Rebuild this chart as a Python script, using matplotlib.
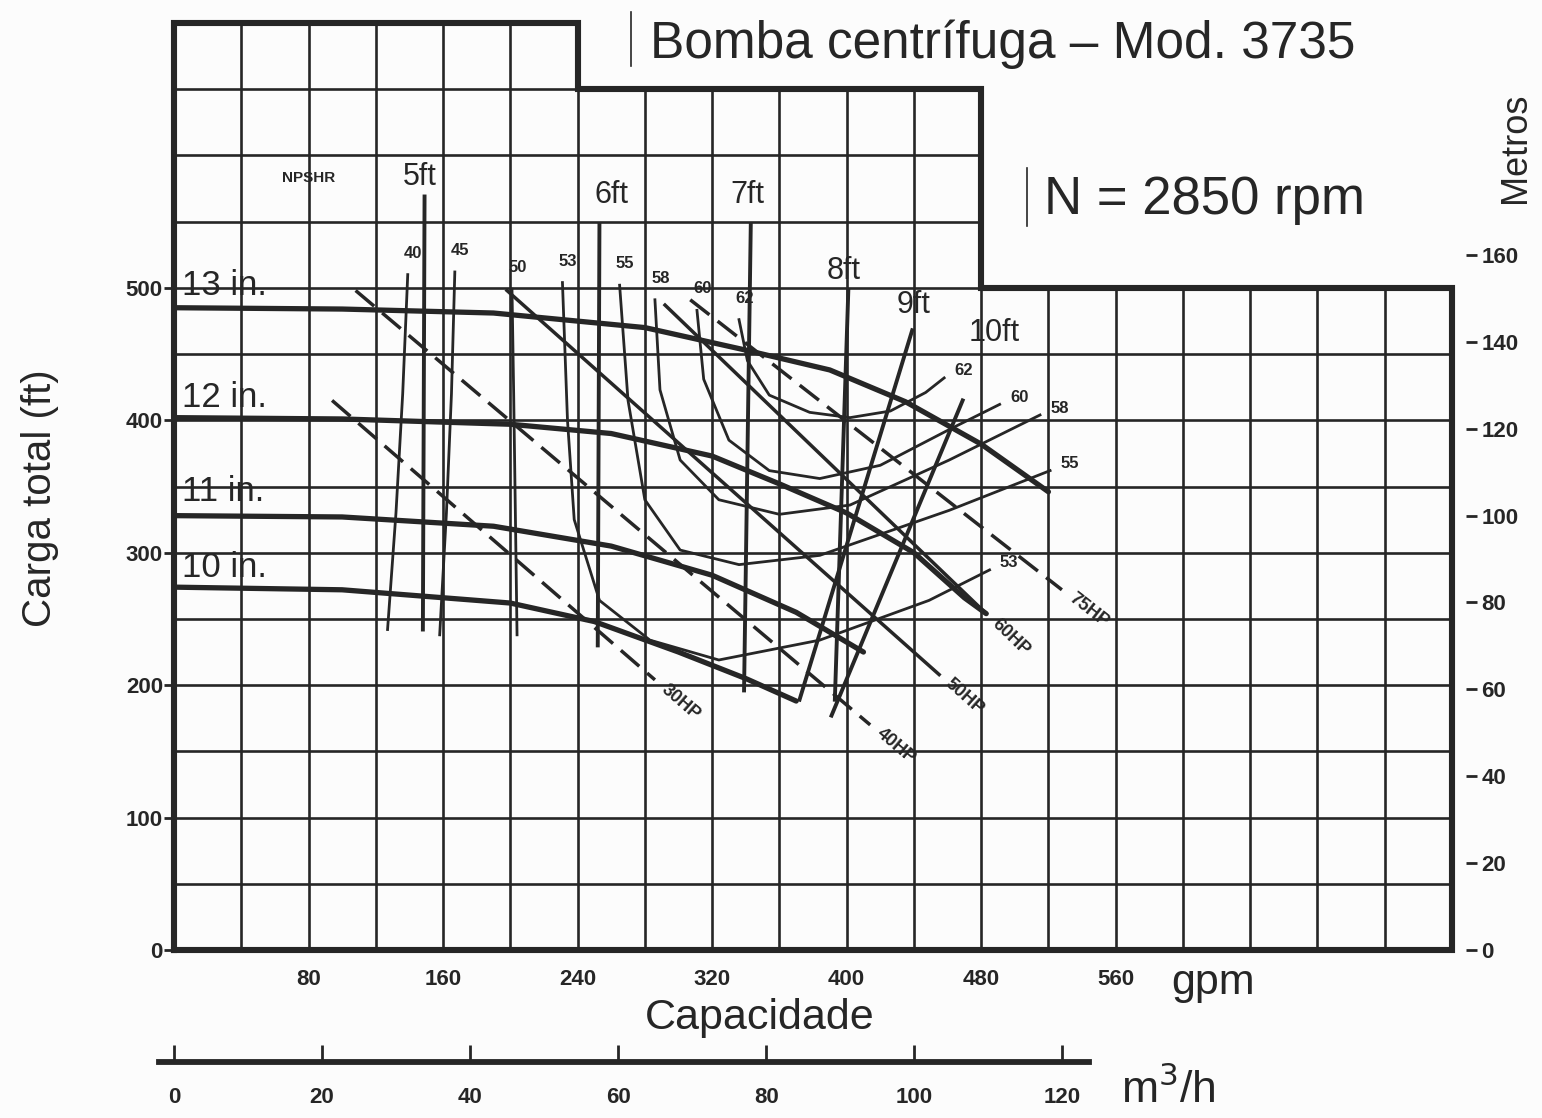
import matplotlib
matplotlib.use('Agg')
import matplotlib.pyplot as plt
from matplotlib.lines import Line2D
import numpy as np

W, H = 1542, 1118
INK = '#262626'
plt.rcParams['font.family'] = ['Liberation Sans', 'DejaVu Sans']

# stepped outline of the chart (gpm, ft)
step_q = [240, 480, 760]
step_top = [700, 650, 500]

# head curves, one per impeller diameter
imp_labels = ['13 in.', '12 in.', '11 in.', '10 in.']
q13 = [0, 100, 190, 280, 340, 390, 435, 480, 520]
h13 = [485, 484, 481, 470, 453, 438, 414, 382, 346]
q12 = [0, 100, 200, 260, 320, 360, 400, 440, 470, 483]
h12 = [402, 401, 397, 390, 373, 352, 330, 300, 266, 254]
q11 = [0, 100, 190, 260, 320, 370, 410]
h11 = [328, 327, 320, 305, 283, 255, 225]
q10 = [0, 100, 200, 250, 300, 340, 370]
h10 = [274, 272, 262, 248, 225, 205, 188]
imp_label_h = [502, 417, 346, 289]

# iso-efficiency lines (%)
eff_labels = ['40', '45', '50', '53', '55', '58', '60', '62']
eff_q = [
    [139, 136, 132, 127],
    [167, 165, 162, 158],
    [201, 202, 203, 204],
    [231, 234, 238, 253, 283, 324, 384, 449, 485],
    [265, 270, 280, 301, 336, 384, 461, 521],
    [286, 289, 301, 324, 360, 402, 461, 515],
    [311, 315, 330, 354, 384, 420, 461, 491],
    [336, 341, 354, 378, 402, 426, 447, 458],
]
eff_h = [
    [510, 420, 330, 242],
    [512, 420, 330, 238],
    [499, 420, 330, 238],
    [504, 400, 325, 264, 234, 219, 234, 264, 287],
    [502, 415, 340, 302, 291, 298, 332, 362],
    [491, 423, 370, 340, 329, 336, 370, 404],
    [483, 431, 385, 362, 356, 366, 393, 412],
    [476, 445, 419, 406, 402, 407, 421, 432],
]

# NPSH required
npsh_labels = ['5ft', '6ft', '7ft', '8ft', '9ft', '10ft']
npsh_q = [[149, 148], [253, 252], [343, 339], [401, 393], [439, 372], [469, 391]]
npsh_h = [[569, 242], [548, 230], [548, 196], [498, 189], [468, 189], [415, 177]]
npsh_lab_q = [146, 260, 341, 398, 440, 488]
npsh_lab_h = [584, 570, 570, 513, 487, 466]

# power lines
hp_labels = ['30HP', '40HP', '50HP', '60HP', '75HP']
hp_q = [[94, 286], [108, 414], [198, 455], [292, 483], [307, 528]]
hp_h = [[415, 204], [498, 170], [498, 208], [487, 254], [491, 272]]
hp_style = ['--', '--', '-', '-', '--']

ft_ticks = [0, 100, 200, 300, 400, 500]
gpm_ticks = [80, 160, 240, 320, 400, 480, 560]
m_ticks = [0, 20, 40, 60, 80, 100, 120, 140, 160]
m3h_ticks = [0, 20, 40, 60, 80, 100, 120]

fig = plt.figure(figsize=(W / 100, H / 100), dpi=100)
fig.patch.set_facecolor('#fcfcfc')
ax = fig.add_axes([174 / W, 1 - 950 / H, (1452 - 174) / W, (950 - 23) / H])
ax.set_xlim(0, 760)
ax.set_ylim(0, 700)
ax.patch.set_alpha(0)
for s in ax.spines.values():
    s.set_visible(False)


def top_at(q):
    for sq, st in zip(step_q, step_top):
        if q <= sq:
            return st
    return 0


def right_at(h):
    r = 0
    for sq, st in zip(step_q, step_top):
        if st >= h:
            r = sq
    return r


# grid
for q in range(40, 760, 40):
    ax.plot([q, q], [0, top_at(q)], color=INK, lw=1.9, zorder=1)
for h in range(50, 700, 50):
    ax.plot([0, right_at(h)], [h, h], color=INK, lw=1.9, zorder=1)

# outline
oq = [0, 0]
oh = [0, step_top[0]]
prev = 0
for sq, st in zip(step_q, step_top):
    oq += [prev, sq]
    oh += [st, st]
    prev = sq
oq += [step_q[-1], 0]
oh += [0, 0]
ax.plot(oq, oh, color=INK, lw=4.4, solid_joinstyle='miter', zorder=5, clip_on=False)

# head curves
for lab, q, h, ty in zip(imp_labels, [q13, q12, q11, q10], [h13, h12, h11, h10],
                         imp_label_h):
    ax.plot(q, h, color=INK, lw=3.8, zorder=4, solid_capstyle='round')
    ax.text(5, ty, lab, fontsize=25, color=INK, va='center', ha='left', zorder=6)

# efficiency
for lab, q, h in zip(eff_labels, eff_q, eff_h):
    ax.plot(q, h, color=INK, lw=2.0, zorder=3)
    ax.annotate(lab, (q[0], h[0]), xytext=(4, 10), textcoords='offset points',
                fontsize=12, fontweight='bold', color=INK, ha='center', va='bottom')
    if len(q) > 4:
        ax.annotate(lab, (q[-1], h[-1]), xytext=(14, 5), textcoords='offset points',
                    fontsize=12, fontweight='bold', color=INK, ha='center', va='center')

# NPSH
for lab, q, h, lq, lh in zip(npsh_labels, npsh_q, npsh_h, npsh_lab_q, npsh_lab_h):
    ax.plot(q, h, color=INK, lw=2.8, zorder=3)
    ax.text(lq, lh, lab, fontsize=22, color=INK, ha='center', va='center')
ax.text(80, 583, 'NPSHR', fontsize=11, fontweight='bold', color=INK,
        ha='center', va='center')

# power lines
fig.canvas.draw()
for lab, q, h, ls in zip(hp_labels, hp_q, hp_h, hp_style):
    ax.plot(q, h, color=INK, lw=2.5, ls=ls, dashes=(7, 3) if ls == '--' else (None, None),
            zorder=3)
    p0 = ax.transData.transform((q[0], h[0]))
    p1 = ax.transData.transform((q[1], h[1]))
    ang = np.arctan2(p1[1] - p0[1], p1[0] - p0[0])
    ax.annotate(lab, (q[1], h[1]), xytext=(8 * np.cos(ang), 8 * np.sin(ang)),
                textcoords='offset points', fontsize=13, fontweight='bold',
                color=INK, rotation=np.degrees(ang), rotation_mode='anchor',
                ha='left', va='center')

# axes ticks
ax.set_yticks(ft_ticks)
ax.set_yticklabels([str(t) for t in ft_ticks])
ax.set_xticks(gpm_ticks)
ax.set_xticklabels([str(t) for t in gpm_ticks])
ax.tick_params(axis='y', direction='out', length=7, width=2, color=INK, pad=1,
               labelsize=16, labelcolor=INK)
ax.tick_params(axis='x', length=0, pad=14, labelsize=16, labelcolor=INK)
for t in ax.get_xticklabels() + ax.get_yticklabels():
    t.set_fontweight('bold')

axr = ax.twinx()
axr.set_ylim(0, 700 / 3.2808)
for s in axr.spines.values():
    s.set_visible(False)
axr.spines['right'].set_position(('outward', 10))
axr.set_yticks(m_ticks)
axr.set_yticklabels([str(t) for t in m_ticks])
axr.tick_params(axis='y', direction='out', length=8, width=2, color=INK, pad=3,
                labelsize=16, labelcolor=INK)
for t in axr.get_yticklabels():
    t.set_fontweight('bold')

# m3/h scale
ax2 = fig.add_axes([174 / W, 56 / H, (1452 - 174) / W, 0.01])
ax2.set_xlim(0, 760 / 4.4029)
ax2.set_ylim(0, 1)
ax2.patch.set_alpha(0)
for s in ax2.spines.values():
    s.set_visible(False)
ax2.set_yticks([])
ax2.plot([-2, 123.6], [0, 0], color=INK, lw=4.2, clip_on=False)
ax2.set_xticks(m3h_ticks)
ax2.set_xticklabels([str(t) for t in m3h_ticks])
ax2.tick_params(axis='x', direction='in', length=12, width=2, color=INK, pad=18,
                labelsize=16, labelcolor=INK)
for t in ax2.get_xticklabels():
    t.set_fontweight('bold')

# texts
fig.text(1003 / W, 1 - 44 / H, 'Bomba centrífuga – Mod. 3735', fontsize=37,
         color=INK, ha='center', va='center')
fig.text(1205 / W, 1 - 200 / H, 'N = 2850 rpm', fontsize=38, color=INK,
         ha='center', va='center')
fig.text(40 / W, 1 - 498 / H, 'Carga total (ft)', fontsize=29, color=INK,
         rotation=90, ha='center', va='center')
fig.text(1515 / W, 1 - 148 / H, 'Metros', fontsize=26, color=INK,
         rotation=90, ha='center', va='center')
fig.text(760 / W, 1 - 1018 / H, 'Capacidade', fontsize=31, color=INK,
         ha='center', va='center')
fig.text(1213 / W, 1 - 983 / H, 'gpm', fontsize=31, color=INK,
         ha='center', va='center')
fig.text(1168 / W, 1 - 1090 / H, 'm$^3$/h', fontsize=32, color=INK,
         ha='center', va='center')

# thin marker bars in front of the two headings
for bx, by0, by1 in [(631, 12, 66), (1027, 168, 226)]:
    fig.add_artist(Line2D([bx / W, bx / W], [1 - by0 / H, 1 - by1 / H],
                          transform=fig.transFigure, color=INK, lw=1.2))

fig.savefig('out.png', dpi=100, facecolor=fig.get_facecolor())
